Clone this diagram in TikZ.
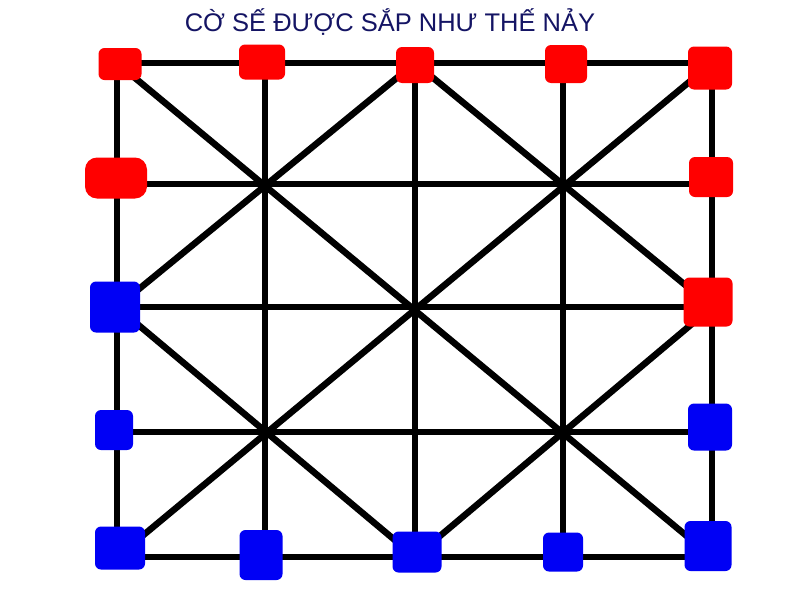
\documentclass[tikz,border=0pt]{standalone}
\usepackage{fontspec}
\setmainfont{Liberation Sans}
\begin{document}
\begin{tikzpicture}[x=1pt,y=-1pt,
  gridline/.style={line width=6.5pt,black,line cap=round},
  redpiece/.style={fill={rgb,255:red,255;green,0;blue,0},draw=none,rounded corners=6pt,inner sep=0pt},
  bluepiece/.style={fill={rgb,255:red,0;green,0;blue,245},draw=none,rounded corners=6pt,inner sep=0pt},
  titletext/.style={text={rgb,255:red,20;green,20;blue,100},font=\fontsize{25.5}{28}\selectfont}]
\useasboundingbox (0,0) rectangle (800,600);
\fill[white] (0,0) rectangle (800,600);
% grid points
\foreach \i/\x in {1/117,2/265,3/415,4/563,5/712}{
  \foreach \j/\y in {1/63,2/184,3/307,4/432,5/557}{
    \coordinate (g\i\j) at (\x,\y);
  }
}
% lines
\foreach \j in {1,...,5}{\draw[gridline] (g1\j) -- (g5\j);}
\foreach \i in {1,...,5}{\draw[gridline] (g\i1) -- (g\i5);}
\draw[gridline] (g11) -- (g55);
\draw[gridline] (g51) -- (g15);
\draw[gridline] (g31) -- (g13) -- (g35) -- (g53) -- cycle;
% title
\node[titletext] (title) at (390,22) {CỜ SẾ ĐƯỢC SẮP NHƯ THẾ NẢY};
% red pieces
\node[redpiece,minimum width=43pt,minimum height=32pt] (r11) at (120,64) {};
\node[redpiece,minimum width=46pt,minimum height=35pt] (r21) at (262,62) {};
\node[redpiece,minimum width=38pt,minimum height=36pt] (r31) at (415,65) {};
\node[redpiece,minimum width=42pt,minimum height=38pt] (r41) at (566,64) {};
\node[redpiece,minimum width=44pt,minimum height=43pt] (r51) at (710,68) {};
\node[redpiece,minimum width=62pt,minimum height=41pt,rounded corners=12pt] (r12) at (116,178) {};
\node[redpiece,minimum width=44pt,minimum height=40pt] (r52) at (711,177) {};
\node[redpiece,minimum width=49pt,minimum height=49pt] (r53) at (708,302) {};
% blue pieces
\node[bluepiece,minimum width=50pt,minimum height=51pt] (b13) at (115,307) {};
\node[bluepiece,minimum width=38pt,minimum height=40pt] (b14) at (114,430) {};
\node[bluepiece,minimum width=44pt,minimum height=47pt] (b54) at (710,427) {};
\node[bluepiece,minimum width=50pt,minimum height=43pt] (b15) at (120,548) {};
\node[bluepiece,minimum width=43pt,minimum height=50pt] (b25) at (261,555) {};
\node[bluepiece,minimum width=49pt,minimum height=41pt] (b35) at (417,552) {};
\node[bluepiece,minimum width=40pt,minimum height=39pt] (b45) at (563,552) {};
\node[bluepiece,minimum width=47pt,minimum height=50pt] (b55) at (708,546) {};
\end{tikzpicture}
\end{document}
